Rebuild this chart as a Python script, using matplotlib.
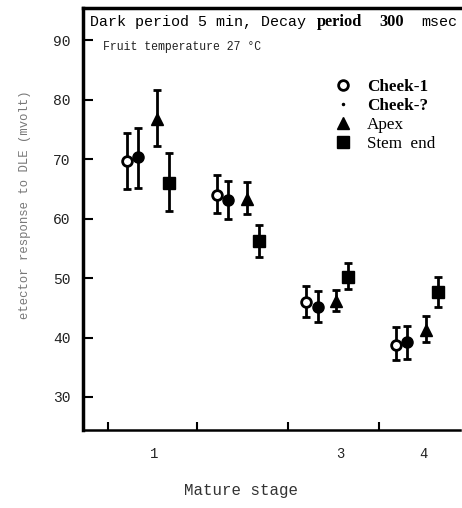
import matplotlib.pyplot as plt
import numpy as np
from matplotlib.lines import Line2D

stages = np.array([1, 2, 3, 4])
stage_labels = ['1', '3', '4']

cheek1 = [69.6, 64.0, 46.0, 38.8]
cheek1_lo = [65.0, 60.9, 43.4, 36.2]
cheek1_hi = [74.3, 67.4, 48.7, 41.7]

cheek2 = [70.3, 63.1, 45.1, 39.2]
cheek2_lo = [65.1, 59.9, 42.6, 36.4]
cheek2_hi = [75.3, 66.3, 47.8, 42.0]

apex = [76.8, 63.3, 46.2, 41.3]
apex_lo = [72.2, 60.8, 44.5, 39.2]
apex_hi = [81.6, 66.1, 48.0, 43.6]

stem = [66.0, 56.2, 50.2, 47.6]
stem_lo = [61.3, 53.5, 48.1, 45.1]
stem_hi = [71.0, 58.9, 52.5, 50.2]

W, H = 462, 508
fig = plt.figure(figsize=(W / 100, H / 100), dpi=100)
ax = fig.add_axes([83 / W, 1 - 430 / H, 377 / W, 422 / H])

mono = 'Liberation Mono'
serif = 'Liberation Serif'

series = [
    (cheek1, cheek1_lo, cheek1_hi, -0.234, dict(marker='o', mfc='white', mec='black', mew=2, ms=7)),
    (cheek2, cheek2_lo, cheek2_hi, -0.11, dict(marker='o', mfc='black', mec='black', ms=8)),
    (apex, apex_lo, apex_hi, 0.10, dict(marker='^', mfc='black', mec='black', ms=8)),
    (stem, stem_lo, stem_hi, 0.234, dict(marker='s', mfc='black', mec='black', ms=8)),
]
for vals, lo, hi, off, style in series:
    vals = np.array(vals)
    err = [vals - np.array(lo), np.array(hi) - vals]
    ax.errorbar(stages + off, vals, yerr=err, fmt='none', ecolor='black',
                elinewidth=2, capsize=3.2, capthick=2)
    ax.plot(stages + off, vals, linestyle='none', zorder=3, **style)

ax.set_xlim(0.275, 4.478)
ax.set_ylim(24.45, 95.4)

ax.set_yticks([30, 40, 50, 60, 70, 80, 90])
ax.tick_params(axis='y', direction='in', length=7, width=1.5, pad=9,
               labelsize=10.5, labelcolor='#222222')
for t in ax.get_yticklabels():
    t.set_fontfamily(mono)

ax.set_xticks([0.55, 1.55, 2.56, 3.58])
ax.set_xticklabels([])
ax.tick_params(axis='x', direction='in', length=6, width=1.5)
ax.set_xticks([1.07, 3.14, 4.07], minor=True)
ax.set_xticklabels(stage_labels, minor=True, fontfamily=mono, fontsize=10, color='#222222')
ax.tick_params(axis='x', which='minor', length=0, pad=12)

ax.spines['right'].set_visible(False)
ax.spines['left'].set_linewidth(2.5)
ax.spines['top'].set_linewidth(2.5)
ax.spines['bottom'].set_linewidth(1.8)

ax.set_xlabel('Mature stage', fontfamily=mono, fontsize=11.3, color='#333333')
ax.xaxis.set_label_coords(0.42, -0.126)
ax.set_ylabel('etector response to DLE (mvolt)', fontfamily=mono, fontsize=8.8, color='#777777')
ax.yaxis.set_label_coords(-0.138, 0.535)

fig.text(90 / W, 1 - 22 / H, 'Dark period 5 min, Decay', fontfamily=mono, fontsize=10.8, va='center')
fig.text(317 / W, 1 - 22 / H, 'period', fontfamily=serif, fontweight='bold', fontsize=11.8, va='center')
fig.text(379 / W, 1 - 22 / H, '300', fontfamily=serif, fontweight='bold', fontsize=11.8, va='center')
fig.text(421 / W, 1 - 22 / H, 'msec', fontfamily=mono, fontsize=10.8, va='center')
fig.text(103 / W, 1 - 47 / H, 'Fruit temperature 27 \u00b0C', fontfamily=mono, fontsize=8.3, va='center', color='#222222')

handles = [
    Line2D([], [], linestyle='none', marker='o', mfc='white', mec='black', mew=2, ms=7),
    Line2D([], [], linestyle='none', marker='.', color='black', ms=3),
    Line2D([], [], linestyle='none', marker='^', color='black', ms=8),
    Line2D([], [], linestyle='none', marker='s', color='black', ms=8),
]
leg = ax.legend(handles, ['Cheek-1', 'Cheek-?', 'Apex', 'Stem  end'],
                loc='upper left', bbox_to_anchor=(251 / 377, 1 - 71 / 422),
                frameon=False, prop={'family': serif, 'size': 12.3},
                handlelength=1.0, handletextpad=0.95, labelspacing=0.17,
                borderaxespad=0, borderpad=0)
for i, t in enumerate(leg.get_texts()):
    if i < 2:
        t.set_fontweight('bold')

fig.savefig('out.png', dpi=100)
